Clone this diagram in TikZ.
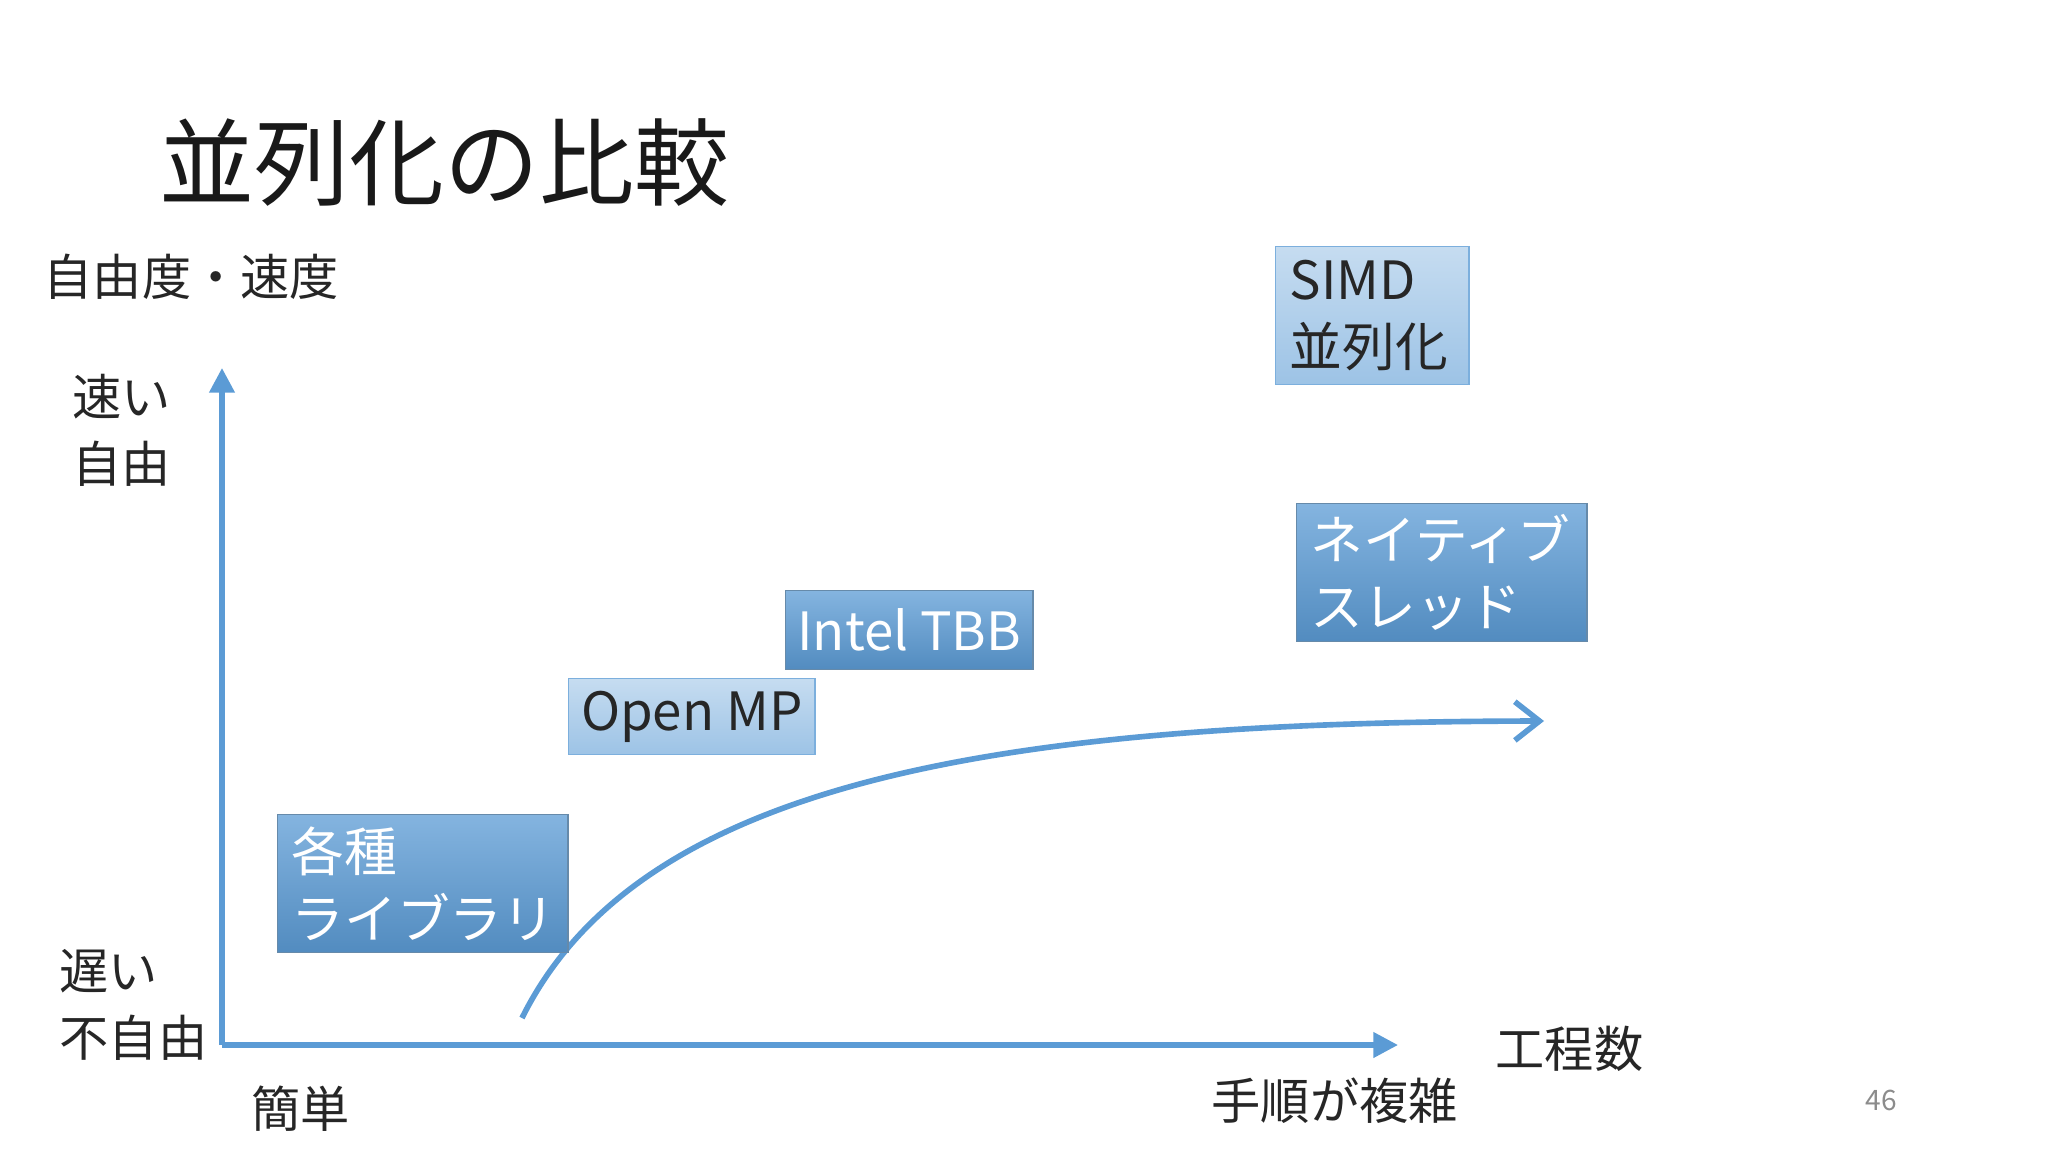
\documentclass[tikz,border=0pt]{standalone}
\usepackage{fontspec}
\setmainfont{Noto Sans CJK JP}
\usetikzlibrary{arrows.meta}
\definecolor{ax}{HTML}{5B9BD5}
\tikzset{
 darkbox/.style={draw=ax!70!black!80, top color=ax!75!white, bottom color=ax!90!black, text=white, font=\fontsize{15}{19}\selectfont, align=left, anchor=north west, inner ysep=0pt},
 lightbox/.style={draw=ax!80, top color=ax!35!white, bottom color=ax!60!white, text=black!85, font=\fontsize{15}{19}\selectfont, align=left, anchor=north west, inner ysep=0pt},
 lbl/.style={font=\fontsize{14}{19}\selectfont, text=black!85, align=left, anchor=west, inner sep=0pt},
 axis/.style={ax, line width=1.5pt}
}
\begin{document}
\begin{tikzpicture}[x=0.01cm,y=-0.01cm]
\useasboundingbox (0,0) rectangle (2048,1152);
\node[anchor=west, inner sep=0pt, font=\fontsize{27}{30}\selectfont, text=black!90] (title) at (159,163) {並列化の比較};
\node[lbl] (yl) at (43,277) {自由度・速度};
\node[lbl] (fast) at (72,430) {速い\\自由};
\node[lbl] (slow) at (59,1005) {遅い\\不自由};
\node[lbl] (easy) at (251,1109) {簡単};
\node[lbl] (hard) at (1211,1101) {手順が複雑};
\node[lbl] (steps) at (1495,1049) {工程数};
\node[anchor=center, font=\fontsize{8}{10}\selectfont, text=black!45] (pg) at (1881,1100) {46};
\coordinate (o) at (222,1045);
\coordinate (ytop) at (222,368);
\coordinate (xend) at (1398,1045);
\draw[axis, -{Triangle[length=7pt,width=7pt]}] (o) -- (ytop);
\draw[axis, -{Triangle[length=7pt,width=7pt]}] (o) -- (xend);
\coordinate (cs) at (522,1018);
\coordinate (ce) at (1544,721);
\draw[axis, line width=1.6pt, -{Straight Barb[length=7pt,width=11pt]}] (cs) .. controls (640,780) and (1000,722) .. (ce);
\node[lightbox, minimum width=1.85cm, minimum height=1.38cm, text width=1.65cm, inner xsep=0.14cm] (simd) at (1275,246) {SIMD\\並列化};
\node[darkbox, minimum width=2.9cm, minimum height=1.38cm, text width=2.62cm, inner xsep=0.14cm] (nat) at (1296,503) {ネイティブ\\スレッド};
\node[darkbox, minimum width=2.31cm, minimum height=0.79cm, align=center] (tbb) at (785,590) {Intel TBB};
\node[lightbox, minimum width=2.46cm, minimum height=0.76cm, align=center] (omp) at (568,678) {Open MP};
\node[darkbox, minimum width=2.9cm, minimum height=1.38cm, text width=2.62cm, inner xsep=0.14cm] (lib) at (277,814) {各種\\ライブラリ};
\end{tikzpicture}
\end{document}
